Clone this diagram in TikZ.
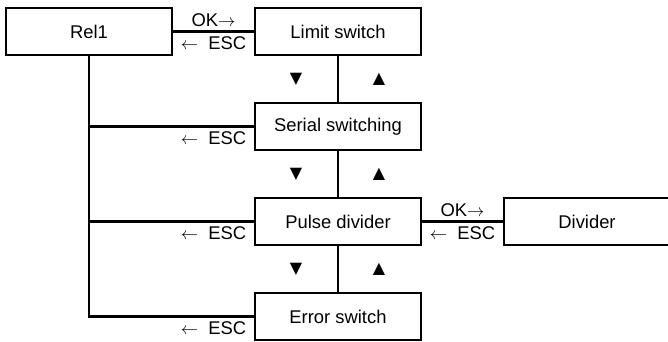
\documentclass[tikz,border=0pt]{standalone}
\usepackage{fontspec}
\setmainfont{Liberation Sans}
\newfontfamily\symfont{DejaVu Sans}
\usetikzlibrary{positioning}
\newcommand{\okarrow}{{\fontsize{17}{17}\selectfont$\rightarrow$}}
\newcommand{\escarrow}{{\fontsize{17}{17}\selectfont$\leftarrow$}}
\begin{document}
\begin{tikzpicture}[x=1pt,y=1pt]
            \tikzstyle{menu box}=[draw,line width=2.1pt,minimum width=166pt,minimum height=47pt,inner sep=0pt,outer sep=0pt,font=\fontsize{18.4}{22}\selectfont]
            \tikzstyle{link}=[line width=2.1pt]
            \tikzstyle{key}=[font=\fontsize{18.4}{22}\selectfont,inner sep=4pt]
            \tikzstyle{tri}=[font=\symfont\fontsize{16}{16}\selectfont,inner sep=0pt]
            \useasboundingbox (0,0) rectangle (668,-342);

            \node(rel)[menu box] at (89,-31.5){Rel1};
            \node(limit)[menu box,right=83pt of rel]{Limit switch};
            \node(serial)[menu box,below=48pt of limit]{Serial switching};
            \node(pulse)[menu box,below=48pt of serial]{Pulse divider};
            \node(error)[menu box,below=48pt of pulse]{Error switch};
            \node(divider)[menu box,right=83pt of pulse]{Divider};

            \draw[link] (rel) -- (limit)
            node[midway,key,above]{OK\okarrow} node[midway,key,below]{\escarrow\ \ ESC};
            \draw[link] (pulse) -- (divider)
            node[midway,key,above]{OK\okarrow} node[midway,key,below]{\escarrow\ \ ESC};

            \draw[link] (limit) -- (serial)
            node[midway,tri,xshift=-42pt]{▼} node[midway,tri,xshift=41pt]{▲};
            \draw[link] (serial) -- (pulse)
            node[midway,tri,xshift=-42pt]{▼} node[midway,tri,xshift=41pt]{▲};
            \draw[link] (pulse) -- (error)
            node[midway,tri,xshift=-42pt]{▼} node[midway,tri,xshift=41pt]{▲};

            \draw[link] (rel) |- (serial) node[pos=0.875,key,below]{\escarrow\ \ ESC};
            \draw[link] (rel) |- (pulse) node[pos=0.875,key,below]{\escarrow\ \ ESC};
            \draw[link] (rel) |- (error) node[pos=0.875,key,below]{\escarrow\ \ ESC};
\end{tikzpicture}
\end{document}
